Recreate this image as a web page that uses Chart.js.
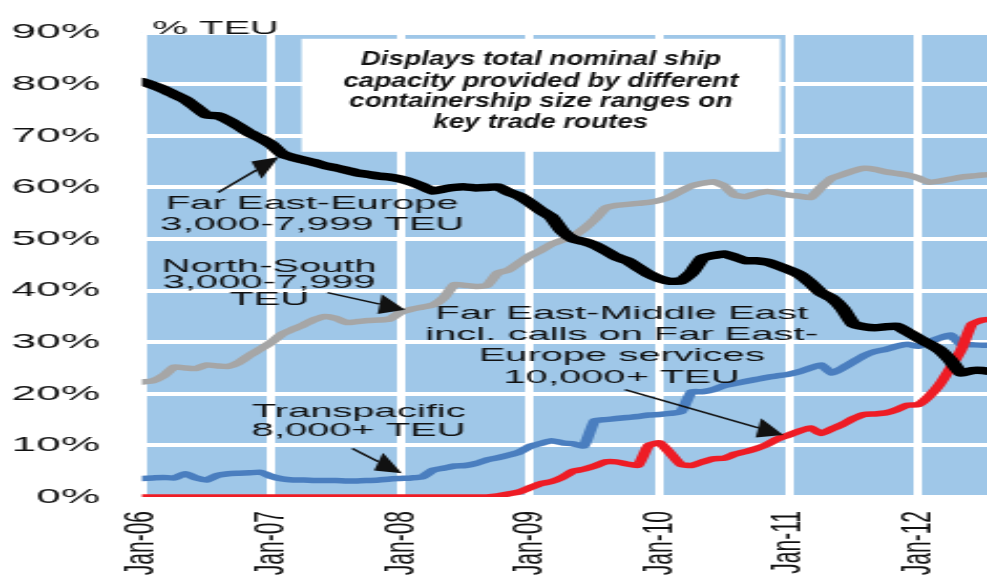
<!DOCTYPE html>
<html>
<head>
<meta charset="utf-8">
<script src="https://cdn.jsdelivr.net/npm/chart.js@4.4.1/dist/chart.umd.min.js"></script>
<style>
  html, body { margin: 0; padding: 0; background: #fff; overflow: hidden; }
  /* the source picture is stretched sideways, so the chart is drawn narrow and widened */
  #chart { display: block; width: 470px; height: 579px; transform: scaleX(2.1); transform-origin: 0 0; }
</style>
</head>
<body>
<canvas id="chart" width="470" height="579"></canvas>
<script>
const STRETCH = 2.1;
const FONT = "'Liberation Sans', Arial, sans-serif";

// one value per month, Jan-06 onwards (% of TEU)
const yearLabels = ['Jan-06', 'Jan-07', 'Jan-08', 'Jan-09', 'Jan-10', 'Jan-11', 'Jan-12'];

const farEastEurope = [
  80.5, 79.8, 79.0, 78.0, 77.0, 75.5, 74.0, 73.9, 73.0, 71.8,
  70.5, 69.5, 68.3, 66.5, 65.8, 65.3, 64.8, 64.2, 63.8, 63.3,
  62.8, 62.5, 62.2, 62.0, 61.6, 61.0, 60.2, 59.3, 59.7, 60.0,
  60.1, 59.9, 60.0, 60.1, 59.1, 58.3, 57.0, 55.5, 54.2, 51.5,
  50.0, 49.5, 48.8, 47.7, 46.5, 45.8, 44.5, 43.2, 42.3, 41.8,
  41.9, 43.5, 46.3, 46.8, 47.1, 46.5, 45.8, 45.8, 45.5, 44.8,
  44.0, 43.1, 41.5, 39.6, 38.5, 36.5, 33.5, 33.0, 32.8, 33.0,
  33.1, 32.0, 30.8, 29.7, 28.5, 26.5, 24.0, 24.5, 24.5, 24.2
];

const northSouth = [
  22.3, 22.5, 23.5, 25.2, 25.0, 24.9, 25.6, 25.4, 25.3, 26.1,
  27.5, 28.7, 30.0, 31.6, 32.5, 33.4, 34.4, 35.0, 34.6, 33.8,
  34.0, 34.2, 34.3, 34.5, 35.8, 36.4, 36.8, 37.2, 38.6, 41.2,
  41.0, 40.8, 41.0, 43.4, 44.0, 45.4, 46.8, 47.8, 49.0, 49.8,
  50.6, 52.0, 53.8, 56.0, 56.5, 56.7, 56.9, 57.1, 57.5, 58.2,
  59.3, 60.3, 60.8, 61.1, 60.3, 58.5, 58.2, 58.8, 59.2, 58.9,
  58.5, 58.3, 58.0, 60.0, 61.8, 62.5, 63.2, 63.7, 63.5, 63.0,
  62.7, 62.4, 61.8, 61.0, 61.2, 61.6, 62.0, 62.2, 62.4, 62.5
];

const transpacific = [
  3.6, 3.7, 3.8, 3.7, 4.5, 3.7, 3.3, 4.2, 4.5, 4.6,
  4.7, 4.8, 4.0, 3.5, 3.3, 3.3, 3.2, 3.2, 3.2, 3.1,
  3.1, 3.2, 3.3, 3.5, 3.6, 3.7, 3.9, 5.2, 5.6, 6.0,
  6.1, 6.5, 7.2, 7.6, 8.1, 8.7, 9.8, 10.4, 10.9, 10.5,
  10.3, 9.9, 14.8, 15.0, 15.2, 15.4, 15.6, 15.9, 16.0, 16.2,
  16.5, 20.4, 20.4, 20.8, 21.6, 22.0, 22.4, 22.8, 23.2, 23.5,
  23.8, 24.3, 25.0, 25.6, 24.0, 25.0, 26.2, 27.4, 28.2, 28.6,
  29.2, 29.6, 29.2, 30.0, 30.8, 31.4, 29.6, 29.5, 29.4, 29.4
];

const farEastMiddleEast = [
  0, 0, 0, 0, 0, 0, 0, 0, 0, 0,
  0, 0, 0, 0, 0, 0, 0, 0, 0, 0,
  0, 0, 0, 0, 0, 0, 0, 0, 0, 0,
  0, 0, 0, 0.2, 0.6, 1.0, 1.8, 2.6, 3.0, 3.8,
  5.0, 5.4, 6.0, 6.8, 6.8, 6.4, 6.1, 10.0, 10.5, 8.5,
  6.3, 6.1, 6.8, 7.4, 7.5, 8.3, 8.8, 9.4, 10.2, 11.3,
  12.0, 12.8, 13.4, 12.3, 13.2, 14.1, 15.2, 16.0, 16.1, 16.3,
  16.9, 17.8, 17.9, 19.5, 21.8, 25.0, 28.5, 33.5, 34.3, 34.5
];

// callout texts, placed in data units (month index, %)
const notes = [
  { lines: ['Far East-Europe', '3,000-7,999 TEU'], x: 15.8, y: [56.8, 52.7], from: [7.05, 59.0], to: [12.7, 65.9] },
  { lines: ['North-South', '3,000-7,999', 'TEU'], x: 11.8, y: [44.7, 41.6, 38.2], from: [17.2, 39.6], to: [24.4, 36.3] },
  { lines: ['Far East-Middle East', 'incl. calls on Far East-', 'Europe services', '10,000+ TEU'], x: 44.5, y: [35.5, 31.4, 27.3, 23.1], from: [44.8, 20.8], to: [59.5, 12.0] },
  { lines: ['Transpacific', '8,000+ TEU'], x: 20.1, y: [16.6, 12.8], from: [19.5, 9.4], to: [24.1, 4.6] }
];
const boxLines = ['Displays total nominal ship', 'capacity provided by different', 'containership size ranges on', 'key trade routes'];

const toPoints = arr => arr.map((v, i) => ({ x: i, y: v }));

function drawArrow(ctx, x1, y1, x2, y2) {
    // geometry worked out in the widened space so the head keeps its shape
    const ax = x1 * STRETCH, bx = x2 * STRETCH;
    const ang = Math.atan2(y2 - y1, bx - ax);
    const len = 26, half = 10;
    const baseX = bx - len * Math.cos(ang), baseY = y2 - len * Math.sin(ang);
    ctx.beginPath();
    ctx.moveTo(x1, y1);
    ctx.lineTo(baseX / STRETCH, baseY);
    ctx.stroke();
    ctx.beginPath();
    ctx.moveTo(x2, y2);
    ctx.lineTo((baseX - half * Math.sin(ang)) / STRETCH, baseY + half * Math.cos(ang));
    ctx.lineTo((baseX + half * Math.sin(ang)) / STRETCH, baseY - half * Math.cos(ang));
    ctx.closePath();
    ctx.fill();
}

const backgroundPlugin = {
    id: 'plotBackground',
    beforeDraw(chart) {
        const { ctx, chartArea: a } = chart;
        ctx.save();
        ctx.fillStyle = '#9fc7e8';
        ctx.fillRect(a.left, a.top, a.right - a.left, a.bottom - a.top);
        ctx.restore();
    },
    beforeDatasetsDraw(chart) {
        const { ctx, scales: { x, y } } = chart;
        // white note box
        const left = x.getPixelForValue(14.8), right = x.getPixelForValue(59.2);
        const top = y.getPixelForValue(88.8), bottom = y.getPixelForValue(66.9);
        ctx.save();
        ctx.fillStyle = '#fff';
        ctx.fillRect(left, top, right - left, bottom - top);
        ctx.font = 'italic bold 20px ' + FONT;
        ctx.fillStyle = '#111';
        ctx.textAlign = 'center';
        ctx.textBaseline = 'middle';
        const sx = (360 / STRETCH) / ctx.measureText(boxLines[0]).width;
        const cx = x.getPixelForValue(37.0);
        const rows = [84.7, 80.6, 76.6, 72.5];
        boxLines.forEach((t, i) => {
            ctx.save();
            ctx.translate(cx, y.getPixelForValue(rows[i]));
            ctx.scale(sx, 1);
            ctx.fillText(t, 0, 0);
            ctx.restore();
        });
        ctx.restore();
    },
    afterDatasetsDraw(chart) {
        const { ctx, chartArea: a, scales: { x, y } } = chart;
        ctx.save();
        ctx.fillStyle = '#111';
        ctx.strokeStyle = '#111';
        ctx.lineWidth = 1.5;
        ctx.font = '19px ' + FONT;
        ctx.textAlign = 'center';
        ctx.textBaseline = 'middle';
        notes.forEach(n => {
            n.lines.forEach((t, i) => ctx.fillText(t, x.getPixelForValue(n.x), y.getPixelForValue(n.y[i])));
            drawArrow(ctx, x.getPixelForValue(n.from[0]), y.getPixelForValue(n.from[1]),
                x.getPixelForValue(n.to[0]), y.getPixelForValue(n.to[1]));
        });
        // unit label above the plot
        ctx.textAlign = 'left';
        ctx.textBaseline = 'alphabetic';
        ctx.fillText('% TEU', a.left + 5, a.top + 1);
        ctx.restore();
    }
};

const lineStyle = (label, data, color, width) => ({
    label: label,
    data: toPoints(data),
    borderColor: color,
    borderWidth: width,
    pointRadius: 0,
    tension: 0.15,
    borderJoinStyle: 'round',
    borderCapStyle: 'round',
    fill: false
});

new Chart(document.getElementById('chart'), {
    type: 'line',
    data: {
        datasets: [
            lineStyle('Far East-Europe 3,000-7,999 TEU', farEastEurope, '#000000', 7.5),
            lineStyle('Far East-Middle East 10,000+ TEU', farEastMiddleEast, '#ee1c25', 5.5),
            lineStyle('Transpacific 8,000+ TEU', transpacific, '#4a7ebf', 5.5),
            lineStyle('North-South 3,000-7,999 TEU', northSouth, '#a6a6a6', 5.5)
        ]
    },
    options: {
        responsive: false,
        animation: false,
        devicePixelRatio: 1,
        layout: { padding: { top: 26, right: 0, bottom: 0, left: 0 } },
        plugins: {
            legend: { display: false },
            tooltip: { enabled: false }
        },
        scales: {
            x: {
                type: 'linear',
                min: 0,
                max: 78.4,
                grid: { color: '#ffffff', lineWidth: 4, drawTicks: false },
                border: { display: false },
                afterBuildTicks: s => { s.ticks = yearLabels.map((_, i) => ({ value: i * 12 })); },
                afterFit: s => { s.height = 82; s.paddingLeft = 0; s.paddingRight = 0; },
                ticks: {
                    autoSkip: false,
                    minRotation: 90,
                    maxRotation: 90,
                    padding: 14,
                    color: '#111',
                    font: { family: FONT, size: 21 },
                    callback: v => yearLabels[Math.round(v / 12)]
                }
            },
            y: {
                min: 0,
                max: 90,
                grid: { color: '#ffffff', lineWidth: 4, drawTicks: false },
                border: { display: false },
                afterFit: s => { s.width = 142 / STRETCH; },
                ticks: {
                    stepSize: 10,
                    padding: 20,
                    color: '#111',
                    font: { family: FONT, size: 21 },
                    callback: v => v + '%'
                }
            }
        }
    },
    plugins: [backgroundPlugin]
});
</script>
</body>
</html>
